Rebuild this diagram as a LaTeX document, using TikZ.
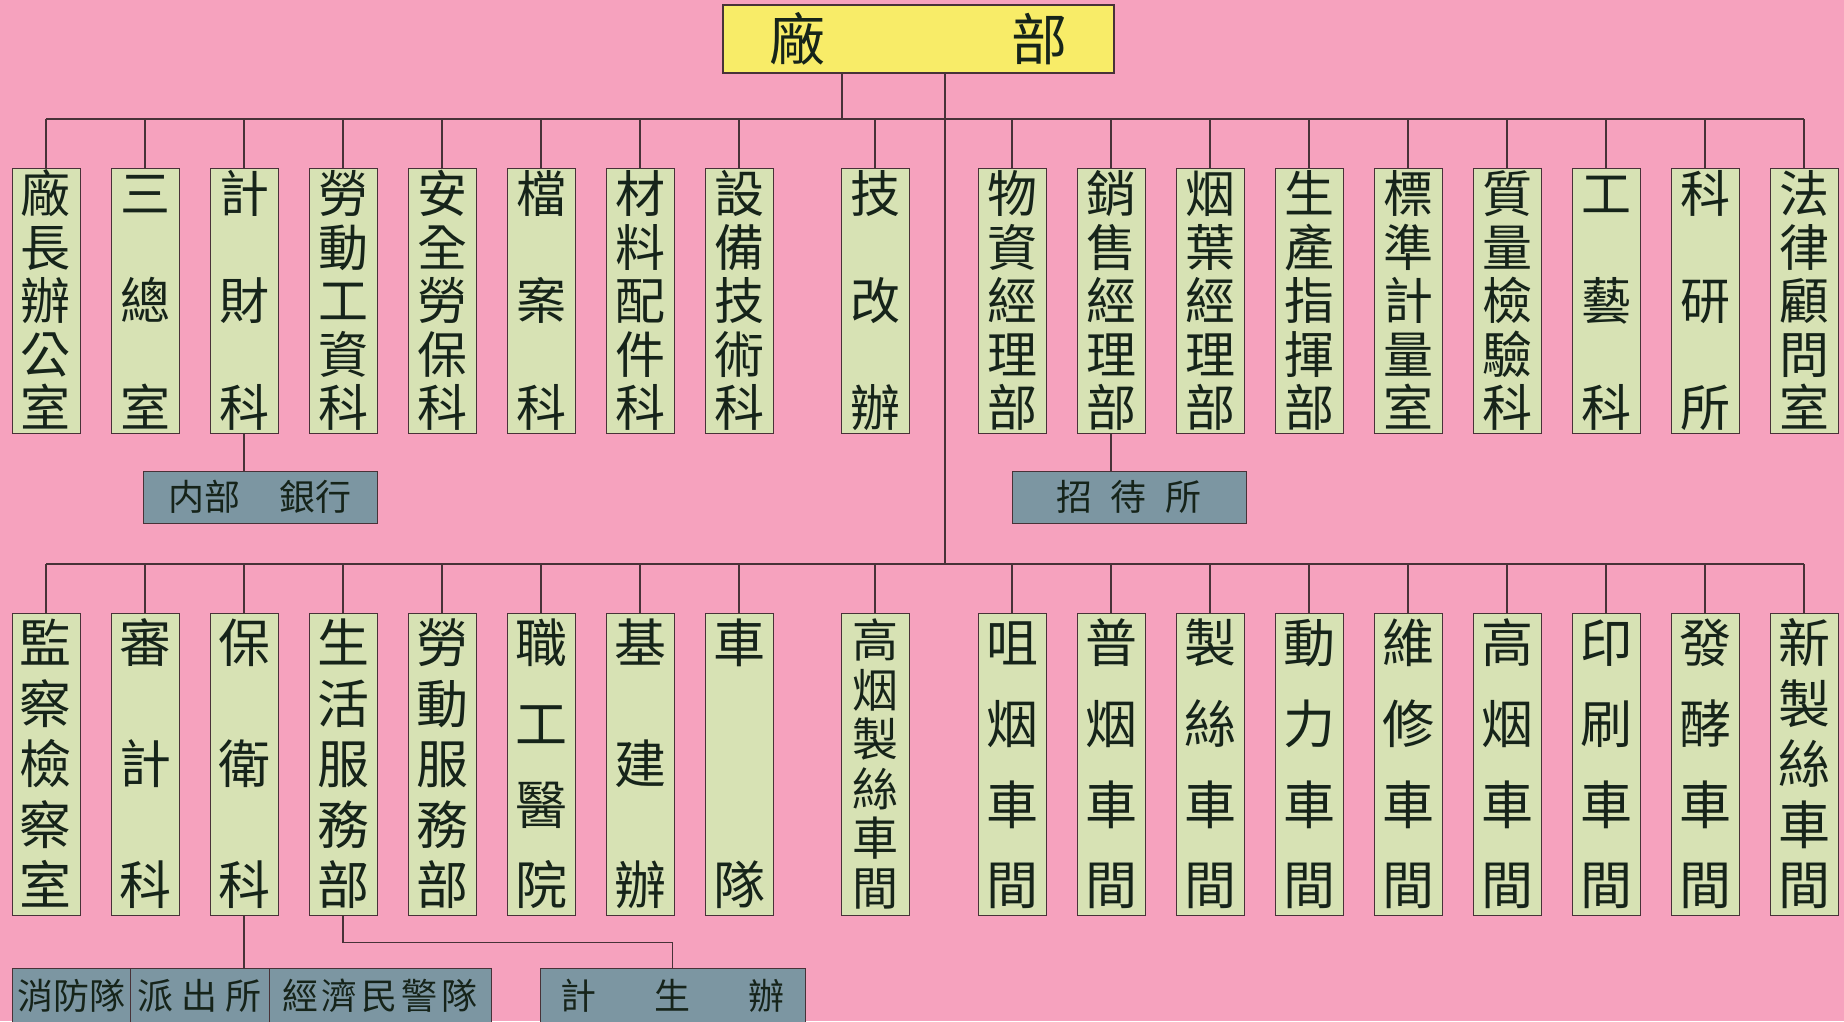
\documentclass[tikz,border=0pt]{standalone}
\usepackage{fontspec}
\setmainfont{Noto Sans CJK TC}
\usetikzlibrary{positioning}

\definecolor{bgpink}{RGB}{246,162,190}
\definecolor{deptgreen}{RGB}{215,226,180}
\definecolor{chiefyellow}{RGB}{248,236,104}
\definecolor{annexgray}{RGB}{124,150,162}
\definecolor{linec}{RGB}{72,50,56}
\definecolor{inkc}{RGB}{22,36,26}

% stack the characters of a label from top to bottom
\makeatletter
\newcommand\vs@gap{\par\vfill}
\newcommand\vs@strut{\rule[-0.12em]{0pt}{1em}}
\newcommand\vstack[2]{\parbox[c][#1][s]{1.2em}{\centering
  \let\vs@sep\relax
  \@tfor\vs@ch:=#2\do{\vs@sep\vs@strut\vs@ch\let\vs@sep\vs@gap}}}
\makeatother

\tikzset{
  dept/.style={draw=linec, fill=deptgreen, line width=1pt, inner sep=0pt,
    minimum width=68pt, minimum height=265pt, text=inkc,
    font=\fontsize{50}{40}\selectfont},
  deptlow/.style={dept, minimum height=302pt, font=\fontsize{52}{40}\selectfont},
  chief/.style={draw=linec, fill=chiefyellow, line width=1.2pt, inner sep=0pt,
    minimum width=391pt, minimum height=68pt, text=inkc,
    font=\fontsize{56}{60}\selectfont},
  annex/.style={draw=linec, fill=annexgray, line width=1pt, inner sep=0pt,
    minimum height=56pt, text=inkc, font=\fontsize{36}{40}\selectfont},
  link/.style={draw=linec, line width=1.3pt}
}

\newcommand\up{258pt}
\newcommand\lo{288pt}

\begin{document}
\begin{tikzpicture}[x=1pt,y=-1pt]
    \fill[bgpink] (0,0) rectangle (1844,1021);
    \clip (0,0) rectangle (1844,1021);

    \coordinate (bus1) at (0,119);
    \coordinate (bus2) at (0,564);

    \node[chief] (boss) at (918.5,39) {廠\hspace{186pt}部};

    % upper row
    \node[dept] (up1) at (46,300.5) {\vstack{\up}{廠長辦公室}};
    \node[dept] (up2) at (145,300.5) {\vstack{\up}{三總室}};
    \node[dept] (up3) at (244,300.5) {\vstack{\up}{計財科}};
    \node[dept] (up4) at (343,300.5) {\vstack{\up}{勞動工資科}};
    \node[dept] (up5) at (442,300.5) {\vstack{\up}{安全勞保科}};
    \node[dept] (up6) at (541,300.5) {\vstack{\up}{檔案科}};
    \node[dept] (up7) at (640,300.5) {\vstack{\up}{材料配件科}};
    \node[dept] (up8) at (739,300.5) {\vstack{\up}{設備技術科}};
    \node[dept] (up9) at (875,300.5) {\vstack{\up}{技改辦}};
    \node[dept] (up10) at (1012,300.5) {\vstack{\up}{物資經理部}};
    \node[dept] (up11) at (1111,300.5) {\vstack{\up}{銷售經理部}};
    \node[dept] (up12) at (1210,300.5) {\vstack{\up}{烟葉經理部}};
    \node[dept] (up13) at (1309,300.5) {\vstack{\up}{生產指揮部}};
    \node[dept] (up14) at (1408,300.5) {\vstack{\up}{標準計量室}};
    \node[dept] (up15) at (1507,300.5) {\vstack{\up}{質量檢驗科}};
    \node[dept] (up16) at (1606,300.5) {\vstack{\up}{工藝科}};
    \node[dept] (up17) at (1705,300.5) {\vstack{\up}{科研所}};
    \node[dept] (up18) at (1804,300.5) {\vstack{\up}{法律顧問室}};

    % lower row
    \node[deptlow] (lo1) at (46,764) {\vstack{\lo}{監察檢察室}};
    \node[deptlow] (lo2) at (145,764) {\vstack{\lo}{審計科}};
    \node[deptlow] (lo3) at (244,764) {\vstack{\lo}{保衛科}};
    \node[deptlow] (lo4) at (343,764) {\vstack{\lo}{生活服務部}};
    \node[deptlow] (lo5) at (442,764) {\vstack{\lo}{勞動服務部}};
    \node[deptlow] (lo6) at (541,764) {\vstack{\lo}{職工醫院}};
    \node[deptlow] (lo7) at (640,764) {\vstack{\lo}{基建辦}};
    \node[deptlow] (lo8) at (739,764) {\vstack{\lo}{車隊}};
    \node[deptlow, font=\fontsize{46}{40}\selectfont] (lo9) at (875,764) {\vstack{\lo}{高烟製絲車間}};
    \node[deptlow] (lo10) at (1012,764) {\vstack{\lo}{咀烟車間}};
    \node[deptlow] (lo11) at (1111,764) {\vstack{\lo}{普烟車間}};
    \node[deptlow] (lo12) at (1210,764) {\vstack{\lo}{製絲車間}};
    \node[deptlow] (lo13) at (1309,764) {\vstack{\lo}{動力車間}};
    \node[deptlow] (lo14) at (1408,764) {\vstack{\lo}{維修車間}};
    \node[deptlow] (lo15) at (1507,764) {\vstack{\lo}{高烟車間}};
    \node[deptlow] (lo16) at (1606,764) {\vstack{\lo}{印刷車間}};
    \node[deptlow] (lo17) at (1705,764) {\vstack{\lo}{發酵車間}};
    \node[deptlow] (lo18) at (1804,764) {\vstack{\lo}{新製絲車間}};

    % attached units
    \node[annex, minimum width=234pt, minimum height=52pt] (bank) at (260,497) {内部\hspace{40pt}銀行};
    \node[annex, minimum width=234pt, minimum height=52pt] (inn) at (1129,497) {招\hspace{19pt}待\hspace{19pt}所};
    \node[annex, minimum width=118pt] (fire) at (71,996) {消防隊};
    \node[annex, minimum width=139pt] (police) at (199.5,996) {派\hspace{8pt}出\hspace{8pt}所};
    \node[annex, minimum width=222pt] (guard) at (380,996) {經\hspace{4pt}濟\hspace{4pt}民\hspace{4pt}警\hspace{4pt}隊};
    \node[annex, minimum width=265pt] (plan) at (672.5,996) {計\hspace{58pt}生\hspace{58pt}辦};

    % connectors
    \draw[link]
        ([xshift=-76.5pt]boss.south) -- ([xshift=-76.5pt]boss.south |- bus1)
        ([xshift=26.5pt]boss.south) -- ([xshift=26.5pt]boss.south |- bus2)
        (up1.north |- bus1) -- (up18.north |- bus1)
        (lo1.north |- bus2) -- (lo18.north |- bus2)
    ;
    \foreach \i in {1,...,18} {
        \draw[link] (up\i.north) -- (up\i.north |- bus1);
        \draw[link] (lo\i.north) -- (lo\i.north |- bus2);
    }
    \draw[link] (up3.south) -- (up3.south |- bank.north);
    \draw[link] (up11.south) -- (up11.south |- inn.north);
    \draw[link] (lo3.south) -- (lo3.south |- police.north);
    \draw[link] (lo4.south) -- ++(0,27) -| (plan.north);
\end{tikzpicture}
\end{document}
